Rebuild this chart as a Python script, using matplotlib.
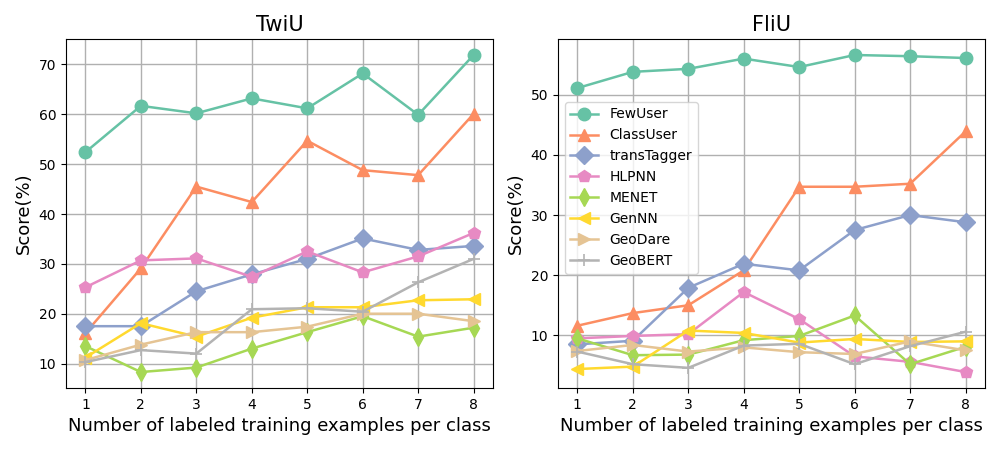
import matplotlib
matplotlib.use("Agg")
import matplotlib.pyplot as plt

shots = [1, 2, 3, 4, 5, 6, 7, 8]
methods = ["FewUser", "ClassUser", "transTagger", "HLPNN", "MENET", "GenNN", "GeoDare", "GeoBERT"]

twiu_fewuser = [52.4, 61.7, 60.2, 63.2, 61.2, 68.2, 59.9, 71.9]
twiu_classuser = [16.1, 29.1, 45.5, 42.4, 54.7, 48.8, 47.8, 60.1]
twiu_transtagger = [17.5, 17.5, 24.5, 27.9, 31.0, 35.1, 32.8, 33.6]
twiu_hlpnn = [25.3, 30.7, 31.1, 27.4, 32.5, 28.3, 31.5, 36.2]
twiu_menet = [13.5, 8.3, 9.2, 13.0, 16.3, 19.5, 15.4, 17.2]
twiu_gennn = [11.2, 18.1, 15.4, 19.2, 21.3, 21.3, 22.7, 22.9]
twiu_geodare = [10.7, 13.8, 16.3, 16.3, 17.4, 20.0, 20.0, 18.5]
twiu_geobert = [10.3, 12.7, 12.0, 20.9, 21.1, 20.4, 26.3, 31.0]

fliu_fewuser = [51.1, 53.8, 54.3, 56.0, 54.6, 56.6, 56.4, 56.1]
fliu_classuser = [11.6, 13.7, 15.0, 20.8, 34.7, 34.7, 35.2, 43.9]
fliu_transtagger = [8.5, 9.1, 17.9, 21.9, 20.8, 27.5, 30.0, 28.8]
fliu_hlpnn = [9.5, 9.9, 10.2, 17.2, 12.7, 6.5, 5.6, 3.9]
fliu_menet = [9.5, 6.7, 6.8, 9.2, 9.9, 13.3, 5.2, 8.1]
fliu_gennn = [4.4, 4.8, 10.8, 10.4, 8.8, 9.4, 8.9, 9.0]
fliu_geodare = [7.4, 8.4, 7.3, 8.0, 7.2, 6.9, 9.0, 7.5]
fliu_geobert = [7.3, 5.2, 4.6, 8.3, 8.6, 5.2, 8.2, 10.6]

twiu = [twiu_fewuser, twiu_classuser, twiu_transtagger, twiu_hlpnn,
        twiu_menet, twiu_gennn, twiu_geodare, twiu_geobert]
fliu = [fliu_fewuser, fliu_classuser, fliu_transtagger, fliu_hlpnn,
        fliu_menet, fliu_gennn, fliu_geodare, fliu_geobert]

colors = ["#66c2a5", "#fc8d62", "#8da0cb", "#e78ac3", "#a6d854", "#ffd92f", "#e5c494", "#b3b3b3"]
markers = ["o", "^", "D", "p", "d", "<", ">", "+"]

fig, axes = plt.subplots(1, 2, figsize=(10, 4.5), dpi=100)
fig.subplots_adjust(left=0.066, right=0.985, top=0.913, bottom=0.138, wspace=0.152)

for ax, data, title in zip(axes, [twiu, fliu], ["TwiU", "FliU"]):
    for name, vals, c, m in zip(methods, data, colors, markers):
        ax.plot(shots, vals, color=c, marker=m, markersize=9, linewidth=1.8,
                label=name, markeredgewidth=1.2 if m == "+" else 1.0)
    ax.set_title(title, fontsize=15)
    ax.set_xlabel("Number of labeled training examples per class", fontsize=13)
    ax.set_ylabel("Score(%)", fontsize=13)
    ax.set_xticks(shots)
    ax.grid(True, color="#b0b0b0", linewidth=1.0)

axes[1].legend(loc="upper left", bbox_to_anchor=(0.0, 0.84), fontsize=10)

fig.savefig("out.png", dpi=100)
